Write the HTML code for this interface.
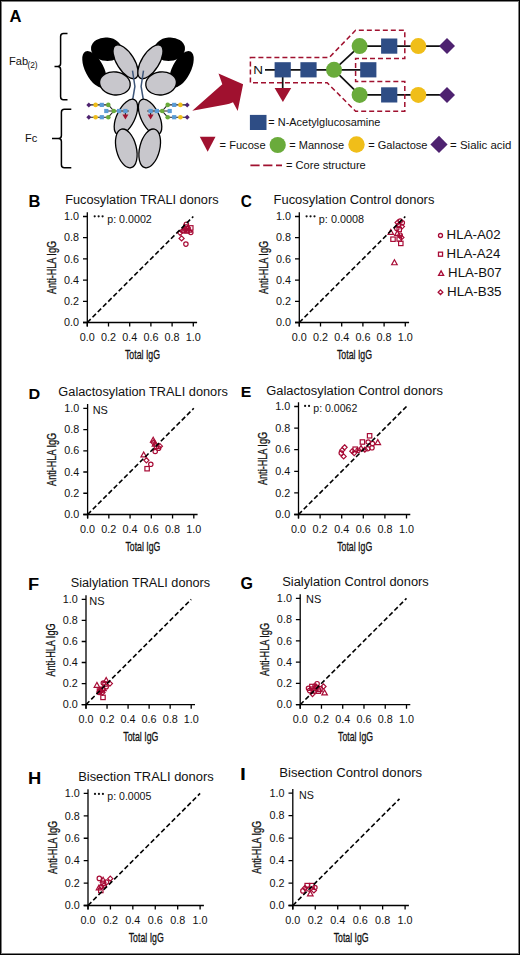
<!DOCTYPE html><html><head><meta charset="utf-8"><style>html,body{margin:0;padding:0;background:#fff;width:520px;height:955px;overflow:hidden}svg{display:block}</style></head><body><svg width="520" height="955" viewBox="0 0 520 955" font-family="'Liberation Sans', sans-serif">
<rect x="0" y="0" width="520" height="955" fill="#fff"/>
<text x="9.47" y="21.50" font-size="16.2" font-weight="bold" fill="#000" textLength="12.00" lengthAdjust="spacingAndGlyphs" >A</text>
<text x="9.01" y="64.50" font-size="10.8" font-weight="normal" fill="#111" textLength="19.09" lengthAdjust="spacingAndGlyphs" >Fab</text>
<text x="27.40" y="68.40" font-size="8.2" font-weight="normal" fill="#111" textLength="10.25" lengthAdjust="spacingAndGlyphs" >(2)</text>
<text x="25.11" y="141.80" font-size="10.8" font-weight="normal" fill="#111" textLength="12.31" lengthAdjust="spacingAndGlyphs" >Fc</text>
<g fill="none" stroke="#000" stroke-width="1.5" stroke-linecap="butt">
<path d="M67.5,33.4 H63.5 Q60.6,33.4 60.6,36.4 V63.4 Q60.6,66.4 57.6,66.4 H54.5 H57.6 Q60.6,66.4 60.6,69.4 V96.8 Q60.6,99.8 63.5,99.8 H67.5"/>
<path d="M71.3,109.3 H64.4 Q61.4,109.3 61.4,112.3 V135.4 Q61.4,138.4 58.4,138.4 H52 H58.4 Q61.4,138.4 61.4,141.4 V164.8 Q61.4,167.8 64.4,167.8 H71.3"/>
</g>
<g><ellipse cx="106.5" cy="49.2" rx="15.5" ry="11.7" transform="rotate(5 106.5 49.2)" fill="#000"/>
<ellipse cx="94.5" cy="69.3" rx="9.2" ry="20" transform="rotate(-27 94.5 69.3)" fill="#000"/>
<ellipse cx="125.6" cy="61.8" rx="8.7" ry="19.2" transform="rotate(-32 125.6 61.8)" fill="#C8C7CC" stroke="#000" stroke-width="1.3"/>
<ellipse cx="114.9" cy="83.4" rx="15.4" ry="11.5" transform="rotate(8 114.9 83.4)" fill="#C8C7CC" stroke="#000" stroke-width="1.3"/>
<path d="M132.5,70.6 L134.9,86.5 L132.7,99.5" fill="none" stroke="#3E5679" stroke-width="1.5"/>
<ellipse cx="125.9" cy="117" rx="9" ry="19.3" transform="rotate(26 125.9 117)" fill="#C8C7CC" stroke="#000" stroke-width="1.3"/>
<ellipse cx="126.3" cy="148.4" rx="10" ry="19.8" transform="rotate(-14 126.3 148.4)" fill="#C8C7CC" stroke="#000" stroke-width="1.3"/>
<g stroke="#222" stroke-width="1.1" fill="none"><path d="M88.8,104.9 H108.3 L113.8,111 L108.3,117.2 H88.8 M106.3,111 H128.8 M125.4,111 V115"/></g>
<polygon points="88.8,102.4 91.3,104.9 88.8,107.4 86.3,104.9" fill="#4E2270"/>
<circle cx="95.6" cy="104.9" r="2.3" fill="#F0BE19"/>
<rect x="99.7" y="102.8" width="4.2" height="4.2" fill="#5B9BD5"/>
<circle cx="108.3" cy="104.9" r="2.3" fill="#6AAB3B"/>
<polygon points="88.8,114.7 91.3,117.2 88.8,119.7 86.3,117.2" fill="#4E2270"/>
<circle cx="95.6" cy="117.2" r="2.3" fill="#F0BE19"/>
<rect x="99.7" y="115.1" width="4.2" height="4.2" fill="#5B9BD5"/>
<circle cx="108.3" cy="117.2" r="2.3" fill="#6AAB3B"/>
<rect x="104.2" y="108.9" width="4.2" height="4.2" fill="#5B9BD5"/>
<circle cx="113.8" cy="111" r="2.3" fill="#6AAB3B"/>
<rect x="117.0" y="108.9" width="4.2" height="4.2" fill="#5B9BD5"/>
<rect x="123.3" y="108.9" width="4.2" height="4.2" fill="#5B9BD5"/>
<polygon points="122.4,114.6 128.4,114.6 125.4,119.6" fill="#A0112F"/></g>
<g transform="translate(276,0) scale(-1,1)"><ellipse cx="106.5" cy="49.2" rx="15.5" ry="11.7" transform="rotate(5 106.5 49.2)" fill="#000"/>
<ellipse cx="94.5" cy="69.3" rx="9.2" ry="20" transform="rotate(-27 94.5 69.3)" fill="#000"/>
<ellipse cx="125.6" cy="61.8" rx="8.7" ry="19.2" transform="rotate(-32 125.6 61.8)" fill="#C8C7CC" stroke="#000" stroke-width="1.3"/>
<ellipse cx="114.9" cy="83.4" rx="15.4" ry="11.5" transform="rotate(8 114.9 83.4)" fill="#C8C7CC" stroke="#000" stroke-width="1.3"/>
<path d="M132.5,70.6 L134.9,86.5 L132.7,99.5" fill="none" stroke="#3E5679" stroke-width="1.5"/>
<ellipse cx="125.9" cy="117" rx="9" ry="19.3" transform="rotate(26 125.9 117)" fill="#C8C7CC" stroke="#000" stroke-width="1.3"/>
<ellipse cx="126.3" cy="148.4" rx="10" ry="19.8" transform="rotate(-14 126.3 148.4)" fill="#C8C7CC" stroke="#000" stroke-width="1.3"/>
<g stroke="#222" stroke-width="1.1" fill="none"><path d="M88.8,104.9 H108.3 L113.8,111 L108.3,117.2 H88.8 M106.3,111 H128.8 M125.4,111 V115"/></g>
<polygon points="88.8,102.4 91.3,104.9 88.8,107.4 86.3,104.9" fill="#4E2270"/>
<circle cx="95.6" cy="104.9" r="2.3" fill="#F0BE19"/>
<rect x="99.7" y="102.8" width="4.2" height="4.2" fill="#5B9BD5"/>
<circle cx="108.3" cy="104.9" r="2.3" fill="#6AAB3B"/>
<polygon points="88.8,114.7 91.3,117.2 88.8,119.7 86.3,117.2" fill="#4E2270"/>
<circle cx="95.6" cy="117.2" r="2.3" fill="#F0BE19"/>
<rect x="99.7" y="115.1" width="4.2" height="4.2" fill="#5B9BD5"/>
<circle cx="108.3" cy="117.2" r="2.3" fill="#6AAB3B"/>
<rect x="104.2" y="108.9" width="4.2" height="4.2" fill="#5B9BD5"/>
<circle cx="113.8" cy="111" r="2.3" fill="#6AAB3B"/>
<rect x="117.0" y="108.9" width="4.2" height="4.2" fill="#5B9BD5"/>
<rect x="123.3" y="108.9" width="4.2" height="4.2" fill="#5B9BD5"/>
<polygon points="122.4,114.6 128.4,114.6 125.4,119.6" fill="#A0112F"/></g>
<path d="M192.3,110.8 L222.3,84.3 L218.5,73.5 L243.1,84.3 L237.7,111.1 L233,102.3 Q229,104 226,104.6 Z" fill="#A0112F"/>
<g stroke="#111" stroke-width="1.7" fill="none">
<path d="M265,69.8 H368 M282.7,69.8 V89 M334,69.8 L359.6,46.1 H447 M334,69.8 L359.6,94.9 H447"/>
</g>
<text x="253.22" y="73.80" font-size="11" font-weight="normal" fill="#111" textLength="9.76" lengthAdjust="spacingAndGlyphs" >N</text>
<polygon points="274.6,88 291.2,88 282.9,102" fill="#A0112F"/>
<rect x="274.6" y="62.2" width="16.2" height="15.2" fill="#2E4D85"/>
<rect x="300.4" y="62.2" width="16.2" height="15.2" fill="#2E4D85"/>
<rect x="360.2" y="62.2" width="16.2" height="15.2" fill="#2E4D85"/>
<rect x="381.1" y="38.5" width="16.2" height="15.2" fill="#2E4D85"/>
<rect x="381.1" y="87.3" width="16.2" height="15.2" fill="#2E4D85"/>
<circle cx="334" cy="69.8" r="8" fill="#6AAB3B"/>
<circle cx="359.6" cy="46.1" r="8" fill="#6AAB3B"/>
<circle cx="359.6" cy="94.9" r="8" fill="#6AAB3B"/>
<circle cx="418.3" cy="46.1" r="8" fill="#F0BE19"/>
<circle cx="418.3" cy="94.9" r="8" fill="#F0BE19"/>
<polygon points="447,38.1 455,46.1 447,54.1 439,46.1" fill="#4E2270"/>
<polygon points="447,86.9 455,94.9 447,102.9 439,94.9" fill="#4E2270"/>
<path d="M250.4,57.6 H329.2 L355.6,30.3 H404.8 V58.5 H355.6 V81.4 H404.8 V111.3 H355.6 L327.2,82.8 H250.4 Z" fill="none" stroke="#A0112F" stroke-width="1.5" stroke-dasharray="5 3"/>
<rect x="249.9" y="114.9" width="16.6" height="15.1" fill="#2E4D85"/>
<text x="268.36" y="126.20" font-size="10.8" font-weight="normal" fill="#111" textLength="112.03" lengthAdjust="spacingAndGlyphs" >= N-Acetylglucosamine</text>
<polygon points="199.8,136.7 215.5,136.7 207.65,151.7" fill="#A0112F"/>
<text x="219.56" y="148.50" font-size="10.8" font-weight="normal" fill="#111" textLength="46.05" lengthAdjust="spacingAndGlyphs" >= Fucose</text>
<circle cx="277.7" cy="145" r="8.1" fill="#6AAB3B"/>
<text x="289.36" y="148.50" font-size="10.8" font-weight="normal" fill="#111" textLength="54.74" lengthAdjust="spacingAndGlyphs" >= Mannose</text>
<circle cx="356.5" cy="144.5" r="8.2" fill="#F0BE19"/>
<text x="368.16" y="148.50" font-size="10.8" font-weight="normal" fill="#111" textLength="59.34" lengthAdjust="spacingAndGlyphs" >= Galactose</text>
<polygon points="439,135.8 447.6,144.4 439,153 430.4,144.4" fill="#4E2270"/>
<text x="450.14" y="148.50" font-size="10.8" font-weight="normal" fill="#111" textLength="61.30" lengthAdjust="spacingAndGlyphs" >= Sialic acid</text>
<line x1="250.4" y1="165.4" x2="282" y2="165.4" stroke="#A0112F" stroke-width="1.6" stroke-dasharray="9.2 3.6"/>
<text x="286.06" y="169.20" font-size="10.8" font-weight="normal" fill="#111" textLength="79.74" lengthAdjust="spacingAndGlyphs" >= Core structure</text>
<g stroke="#000" stroke-width="1.3" fill="none" stroke-linecap="butt">
<path d="M87.30,326.60 V212.30 M83.00,322.50 H197.10"/>
<path d="M83.00,322.50 H87.30 M87.30,322.50 V326.60 M83.00,301.30 H87.30 M108.50,322.50 V326.60 M83.00,280.10 H87.30 M129.70,322.50 V326.60 M83.00,258.90 H87.30 M150.90,322.50 V326.60 M83.00,237.70 H87.30 M172.10,322.50 V326.60 M83.00,216.50 H87.30 M193.30,322.50 V326.60 "/>
</g>
<text x="79.00" y="326.20" font-size="10.0" text-anchor="end" font-weight="normal" fill="#111" textLength="15.01" lengthAdjust="spacingAndGlyphs" >0.0</text>
<text x="87.30" y="340.50" font-size="10.0" text-anchor="middle" font-weight="normal" fill="#111" textLength="15.01" lengthAdjust="spacingAndGlyphs" >0.0</text>
<text x="79.00" y="305.00" font-size="10.0" text-anchor="end" font-weight="normal" fill="#111" textLength="15.01" lengthAdjust="spacingAndGlyphs" >0.2</text>
<text x="108.50" y="340.50" font-size="10.0" text-anchor="middle" font-weight="normal" fill="#111" textLength="15.01" lengthAdjust="spacingAndGlyphs" >0.2</text>
<text x="79.00" y="283.80" font-size="10.0" text-anchor="end" font-weight="normal" fill="#111" textLength="15.01" lengthAdjust="spacingAndGlyphs" >0.4</text>
<text x="129.70" y="340.50" font-size="10.0" text-anchor="middle" font-weight="normal" fill="#111" textLength="15.01" lengthAdjust="spacingAndGlyphs" >0.4</text>
<text x="79.00" y="262.60" font-size="10.0" text-anchor="end" font-weight="normal" fill="#111" textLength="15.01" lengthAdjust="spacingAndGlyphs" >0.6</text>
<text x="150.90" y="340.50" font-size="10.0" text-anchor="middle" font-weight="normal" fill="#111" textLength="15.01" lengthAdjust="spacingAndGlyphs" >0.6</text>
<text x="79.00" y="241.40" font-size="10.0" text-anchor="end" font-weight="normal" fill="#111" textLength="15.01" lengthAdjust="spacingAndGlyphs" >0.8</text>
<text x="172.10" y="340.50" font-size="10.0" text-anchor="middle" font-weight="normal" fill="#111" textLength="15.01" lengthAdjust="spacingAndGlyphs" >0.8</text>
<text x="79.00" y="220.20" font-size="10.0" text-anchor="end" font-weight="normal" fill="#111" textLength="15.01" lengthAdjust="spacingAndGlyphs" >1.0</text>
<text x="193.30" y="340.50" font-size="10.0" text-anchor="middle" font-weight="normal" fill="#111" textLength="15.01" lengthAdjust="spacingAndGlyphs" >1.0</text>
<text x="142.50" y="358.80" font-size="12.6" text-anchor="middle" fill="#111" stroke="#111" stroke-width="0.3" textLength="35" lengthAdjust="spacingAndGlyphs">Total IgG</text>
<text transform="translate(55.80,267.50) rotate(-90)" x="0" y="0" font-size="12.6" text-anchor="middle" fill="#111" stroke="#111" stroke-width="0.3" textLength="53" lengthAdjust="spacingAndGlyphs">Anti-HLA IgG</text>
<circle cx="185.90" cy="244.10" r="2.20" fill="none" stroke="#A80C36" stroke-width="1.2"/>
<polygon points="181.60,235.85 184.15,238.40 181.60,240.95 179.05,238.40" fill="none" stroke="#A80C36" stroke-width="1.2"/>
<circle cx="190.80" cy="232.50" r="2.20" fill="none" stroke="#A80C36" stroke-width="1.2"/>
<circle cx="186.40" cy="224.20" r="2.20" fill="none" stroke="#A80C36" stroke-width="1.2"/>
<rect x="188.60" y="225.70" width="4.40" height="4.40" fill="none" stroke="#A80C36" stroke-width="1.2"/>
<polygon points="180.10,230.25 182.65,232.80 180.10,235.35 177.55,232.80" fill="none" stroke="#A80C36" stroke-width="1.2"/>
<circle cx="185.00" cy="229.00" r="2.20" fill="none" stroke="#A80C36" stroke-width="1.2"/>
<rect x="184.80" y="228.80" width="4.40" height="4.40" fill="none" stroke="#A80C36" stroke-width="1.2"/>
<polygon points="184.00,227.10 186.75,232.03 181.25,232.03" fill="none" stroke="#A80C36" stroke-width="1.2" stroke-linejoin="miter"/>
<polygon points="188.00,225.45 190.55,228.00 188.00,230.55 185.45,228.00" fill="none" stroke="#A80C36" stroke-width="1.2"/>
<circle cx="183.00" cy="231.00" r="2.20" fill="none" stroke="#A80C36" stroke-width="1.2"/>
<rect x="183.80" y="224.80" width="4.40" height="4.40" fill="none" stroke="#A80C36" stroke-width="1.2"/>
<polygon points="189.00,227.10 191.75,232.03 186.25,232.03" fill="none" stroke="#A80C36" stroke-width="1.2" stroke-linejoin="miter"/>
<line x1="87.30" y1="322.50" x2="193.30" y2="216.50" stroke="#000" stroke-width="1.6" stroke-dasharray="4.8 2.6"/>
<g stroke="#000" stroke-width="1.3" fill="none" stroke-linecap="butt">
<path d="M299.30,326.60 V212.30 M295.00,322.50 H409.10"/>
<path d="M295.00,322.50 H299.30 M299.30,322.50 V326.60 M295.00,301.30 H299.30 M320.50,322.50 V326.60 M295.00,280.10 H299.30 M341.70,322.50 V326.60 M295.00,258.90 H299.30 M362.90,322.50 V326.60 M295.00,237.70 H299.30 M384.10,322.50 V326.60 M295.00,216.50 H299.30 M405.30,322.50 V326.60 "/>
</g>
<text x="291.00" y="326.20" font-size="10.0" text-anchor="end" font-weight="normal" fill="#111" textLength="15.01" lengthAdjust="spacingAndGlyphs" >0.0</text>
<text x="299.30" y="340.50" font-size="10.0" text-anchor="middle" font-weight="normal" fill="#111" textLength="15.01" lengthAdjust="spacingAndGlyphs" >0.0</text>
<text x="291.00" y="305.00" font-size="10.0" text-anchor="end" font-weight="normal" fill="#111" textLength="15.01" lengthAdjust="spacingAndGlyphs" >0.2</text>
<text x="320.50" y="340.50" font-size="10.0" text-anchor="middle" font-weight="normal" fill="#111" textLength="15.01" lengthAdjust="spacingAndGlyphs" >0.2</text>
<text x="291.00" y="283.80" font-size="10.0" text-anchor="end" font-weight="normal" fill="#111" textLength="15.01" lengthAdjust="spacingAndGlyphs" >0.4</text>
<text x="341.70" y="340.50" font-size="10.0" text-anchor="middle" font-weight="normal" fill="#111" textLength="15.01" lengthAdjust="spacingAndGlyphs" >0.4</text>
<text x="291.00" y="262.60" font-size="10.0" text-anchor="end" font-weight="normal" fill="#111" textLength="15.01" lengthAdjust="spacingAndGlyphs" >0.6</text>
<text x="362.90" y="340.50" font-size="10.0" text-anchor="middle" font-weight="normal" fill="#111" textLength="15.01" lengthAdjust="spacingAndGlyphs" >0.6</text>
<text x="291.00" y="241.40" font-size="10.0" text-anchor="end" font-weight="normal" fill="#111" textLength="15.01" lengthAdjust="spacingAndGlyphs" >0.8</text>
<text x="384.10" y="340.50" font-size="10.0" text-anchor="middle" font-weight="normal" fill="#111" textLength="15.01" lengthAdjust="spacingAndGlyphs" >0.8</text>
<text x="291.00" y="220.20" font-size="10.0" text-anchor="end" font-weight="normal" fill="#111" textLength="15.01" lengthAdjust="spacingAndGlyphs" >1.0</text>
<text x="405.30" y="340.50" font-size="10.0" text-anchor="middle" font-weight="normal" fill="#111" textLength="15.01" lengthAdjust="spacingAndGlyphs" >1.0</text>
<text x="354.50" y="358.80" font-size="12.6" text-anchor="middle" fill="#111" stroke="#111" stroke-width="0.3" textLength="35" lengthAdjust="spacingAndGlyphs">Total IgG</text>
<text transform="translate(267.80,267.50) rotate(-90)" x="0" y="0" font-size="12.6" text-anchor="middle" fill="#111" stroke="#111" stroke-width="0.3" textLength="53" lengthAdjust="spacingAndGlyphs">Anti-HLA IgG</text>
<polygon points="394.45,259.80 397.20,264.73 391.69,264.73" fill="none" stroke="#A80C36" stroke-width="1.2" stroke-linejoin="miter"/>
<rect x="390.80" y="237.00" width="4.40" height="4.40" fill="none" stroke="#A80C36" stroke-width="1.2"/>
<rect x="398.60" y="241.20" width="4.40" height="4.40" fill="none" stroke="#A80C36" stroke-width="1.2"/>
<polygon points="390.80,229.50 393.56,234.43 388.05,234.43" fill="none" stroke="#A80C36" stroke-width="1.2" stroke-linejoin="miter"/>
<circle cx="400.20" cy="221.00" r="2.20" fill="none" stroke="#A80C36" stroke-width="1.2"/>
<polygon points="397.60,220.05 400.15,222.60 397.60,225.15 395.05,222.60" fill="none" stroke="#A80C36" stroke-width="1.2"/>
<circle cx="402.30" cy="222.80" r="2.20" fill="none" stroke="#A80C36" stroke-width="1.2"/>
<circle cx="398.50" cy="225.50" r="2.20" fill="none" stroke="#A80C36" stroke-width="1.2"/>
<polygon points="401.90,224.05 404.45,226.60 401.90,229.15 399.35,226.60" fill="none" stroke="#A80C36" stroke-width="1.2"/>
<circle cx="396.80" cy="228.40" r="2.20" fill="none" stroke="#A80C36" stroke-width="1.2"/>
<rect x="397.00" y="227.30" width="4.40" height="4.40" fill="none" stroke="#A80C36" stroke-width="1.2"/>
<polygon points="397.40,230.50 400.15,235.43 394.64,235.43" fill="none" stroke="#A80C36" stroke-width="1.2" stroke-linejoin="miter"/>
<circle cx="400.20" cy="235.20" r="2.20" fill="none" stroke="#A80C36" stroke-width="1.2"/>
<polygon points="401.40,234.85 403.95,237.40 401.40,239.95 398.85,237.40" fill="none" stroke="#A80C36" stroke-width="1.2"/>
<rect x="397.00" y="236.80" width="4.40" height="4.40" fill="none" stroke="#A80C36" stroke-width="1.2"/>
<line x1="299.30" y1="322.50" x2="405.30" y2="216.50" stroke="#000" stroke-width="1.6" stroke-dasharray="4.8 2.6"/>
<g stroke="#000" stroke-width="1.3" fill="none" stroke-linecap="butt">
<path d="M87.60,518.60 V404.10 M83.30,514.50 H197.60"/>
<path d="M83.30,514.50 H87.60 M87.60,514.50 V518.60 M83.30,493.26 H87.60 M108.84,514.50 V518.60 M83.30,472.02 H87.60 M130.08,514.50 V518.60 M83.30,450.78 H87.60 M151.32,514.50 V518.60 M83.30,429.54 H87.60 M172.56,514.50 V518.60 M83.30,408.30 H87.60 M193.80,514.50 V518.60 "/>
</g>
<text x="79.30" y="518.20" font-size="10.0" text-anchor="end" font-weight="normal" fill="#111" textLength="15.01" lengthAdjust="spacingAndGlyphs" >0.0</text>
<text x="87.60" y="532.50" font-size="10.0" text-anchor="middle" font-weight="normal" fill="#111" textLength="15.01" lengthAdjust="spacingAndGlyphs" >0.0</text>
<text x="79.30" y="496.96" font-size="10.0" text-anchor="end" font-weight="normal" fill="#111" textLength="15.01" lengthAdjust="spacingAndGlyphs" >0.2</text>
<text x="108.84" y="532.50" font-size="10.0" text-anchor="middle" font-weight="normal" fill="#111" textLength="15.01" lengthAdjust="spacingAndGlyphs" >0.2</text>
<text x="79.30" y="475.72" font-size="10.0" text-anchor="end" font-weight="normal" fill="#111" textLength="15.01" lengthAdjust="spacingAndGlyphs" >0.4</text>
<text x="130.08" y="532.50" font-size="10.0" text-anchor="middle" font-weight="normal" fill="#111" textLength="15.01" lengthAdjust="spacingAndGlyphs" >0.4</text>
<text x="79.30" y="454.48" font-size="10.0" text-anchor="end" font-weight="normal" fill="#111" textLength="15.01" lengthAdjust="spacingAndGlyphs" >0.6</text>
<text x="151.32" y="532.50" font-size="10.0" text-anchor="middle" font-weight="normal" fill="#111" textLength="15.01" lengthAdjust="spacingAndGlyphs" >0.6</text>
<text x="79.30" y="433.24" font-size="10.0" text-anchor="end" font-weight="normal" fill="#111" textLength="15.01" lengthAdjust="spacingAndGlyphs" >0.8</text>
<text x="172.56" y="532.50" font-size="10.0" text-anchor="middle" font-weight="normal" fill="#111" textLength="15.01" lengthAdjust="spacingAndGlyphs" >0.8</text>
<text x="79.30" y="412.00" font-size="10.0" text-anchor="end" font-weight="normal" fill="#111" textLength="15.01" lengthAdjust="spacingAndGlyphs" >1.0</text>
<text x="193.80" y="532.50" font-size="10.0" text-anchor="middle" font-weight="normal" fill="#111" textLength="15.01" lengthAdjust="spacingAndGlyphs" >1.0</text>
<text x="142.90" y="550.80" font-size="12.6" text-anchor="middle" fill="#111" stroke="#111" stroke-width="0.3" textLength="35" lengthAdjust="spacingAndGlyphs">Total IgG</text>
<text transform="translate(56.10,459.40) rotate(-90)" x="0" y="0" font-size="12.6" text-anchor="middle" fill="#111" stroke="#111" stroke-width="0.3" textLength="53" lengthAdjust="spacingAndGlyphs">Anti-HLA IgG</text>
<rect x="144.90" y="466.50" width="4.40" height="4.40" fill="none" stroke="#A80C36" stroke-width="1.2"/>
<circle cx="150.80" cy="464.30" r="2.20" fill="none" stroke="#A80C36" stroke-width="1.2"/>
<polygon points="146.40,457.75 148.95,460.30 146.40,462.85 143.85,460.30" fill="none" stroke="#A80C36" stroke-width="1.2"/>
<polygon points="143.70,452.00 146.45,456.93 140.94,456.93" fill="none" stroke="#A80C36" stroke-width="1.2" stroke-linejoin="miter"/>
<circle cx="155.20" cy="451.50" r="2.20" fill="none" stroke="#A80C36" stroke-width="1.2"/>
<polygon points="153.20,437.20 155.95,442.13 150.44,442.13" fill="none" stroke="#A80C36" stroke-width="1.2" stroke-linejoin="miter"/>
<polygon points="153.50,439.95 156.05,442.50 153.50,445.05 150.95,442.50" fill="none" stroke="#A80C36" stroke-width="1.2"/>
<rect x="154.30" y="444.00" width="4.40" height="4.40" fill="none" stroke="#A80C36" stroke-width="1.2"/>
<polygon points="159.90,443.65 162.45,446.20 159.90,448.75 157.35,446.20" fill="none" stroke="#A80C36" stroke-width="1.2"/>
<circle cx="158.60" cy="448.20" r="2.20" fill="none" stroke="#A80C36" stroke-width="1.2"/>
<polygon points="155.00,441.10 157.75,446.03 152.25,446.03" fill="none" stroke="#A80C36" stroke-width="1.2" stroke-linejoin="miter"/>
<line x1="87.60" y1="514.50" x2="193.80" y2="408.30" stroke="#000" stroke-width="1.6" stroke-dasharray="4.8 2.6"/>
<g stroke="#000" stroke-width="1.3" fill="none" stroke-linecap="butt">
<path d="M298.50,518.60 V402.30 M294.20,514.50 H410.30"/>
<path d="M294.20,514.50 H298.50 M298.50,514.50 V518.60 M294.20,492.90 H298.50 M320.10,514.50 V518.60 M294.20,471.30 H298.50 M341.70,514.50 V518.60 M294.20,449.70 H298.50 M363.30,514.50 V518.60 M294.20,428.10 H298.50 M384.90,514.50 V518.60 M294.20,406.50 H298.50 M406.50,514.50 V518.60 "/>
</g>
<text x="290.20" y="518.20" font-size="10.0" text-anchor="end" font-weight="normal" fill="#111" textLength="15.01" lengthAdjust="spacingAndGlyphs" >0.0</text>
<text x="298.50" y="532.50" font-size="10.0" text-anchor="middle" font-weight="normal" fill="#111" textLength="15.01" lengthAdjust="spacingAndGlyphs" >0.0</text>
<text x="290.20" y="496.60" font-size="10.0" text-anchor="end" font-weight="normal" fill="#111" textLength="15.01" lengthAdjust="spacingAndGlyphs" >0.2</text>
<text x="320.10" y="532.50" font-size="10.0" text-anchor="middle" font-weight="normal" fill="#111" textLength="15.01" lengthAdjust="spacingAndGlyphs" >0.2</text>
<text x="290.20" y="475.00" font-size="10.0" text-anchor="end" font-weight="normal" fill="#111" textLength="15.01" lengthAdjust="spacingAndGlyphs" >0.4</text>
<text x="341.70" y="532.50" font-size="10.0" text-anchor="middle" font-weight="normal" fill="#111" textLength="15.01" lengthAdjust="spacingAndGlyphs" >0.4</text>
<text x="290.20" y="453.40" font-size="10.0" text-anchor="end" font-weight="normal" fill="#111" textLength="15.01" lengthAdjust="spacingAndGlyphs" >0.6</text>
<text x="363.30" y="532.50" font-size="10.0" text-anchor="middle" font-weight="normal" fill="#111" textLength="15.01" lengthAdjust="spacingAndGlyphs" >0.6</text>
<text x="290.20" y="431.80" font-size="10.0" text-anchor="end" font-weight="normal" fill="#111" textLength="15.01" lengthAdjust="spacingAndGlyphs" >0.8</text>
<text x="384.90" y="532.50" font-size="10.0" text-anchor="middle" font-weight="normal" fill="#111" textLength="15.01" lengthAdjust="spacingAndGlyphs" >0.8</text>
<text x="290.20" y="410.20" font-size="10.0" text-anchor="end" font-weight="normal" fill="#111" textLength="15.01" lengthAdjust="spacingAndGlyphs" >1.0</text>
<text x="406.50" y="532.50" font-size="10.0" text-anchor="middle" font-weight="normal" fill="#111" textLength="15.01" lengthAdjust="spacingAndGlyphs" >1.0</text>
<text x="354.70" y="550.80" font-size="12.6" text-anchor="middle" fill="#111" stroke="#111" stroke-width="0.3" textLength="35" lengthAdjust="spacingAndGlyphs">Total IgG</text>
<text transform="translate(267.00,458.50) rotate(-90)" x="0" y="0" font-size="12.6" text-anchor="middle" fill="#111" stroke="#111" stroke-width="0.3" textLength="53" lengthAdjust="spacingAndGlyphs">Anti-HLA IgG</text>
<polygon points="344.60,444.75 347.15,447.30 344.60,449.85 342.05,447.30" fill="none" stroke="#A80C36" stroke-width="1.2"/>
<polygon points="342.20,447.65 344.75,450.20 342.20,452.75 339.65,450.20" fill="none" stroke="#A80C36" stroke-width="1.2"/>
<circle cx="341.25" cy="453.10" r="2.20" fill="none" stroke="#A80C36" stroke-width="1.2"/>
<polygon points="343.65,453.85 346.20,456.40 343.65,458.95 341.10,456.40" fill="none" stroke="#A80C36" stroke-width="1.2"/>
<polygon points="352.30,448.65 354.85,451.20 352.30,453.75 349.75,451.20" fill="none" stroke="#A80C36" stroke-width="1.2"/>
<rect x="353.00" y="447.00" width="4.40" height="4.40" fill="none" stroke="#A80C36" stroke-width="1.2"/>
<polygon points="354.20,450.55 356.75,453.10 354.20,455.65 351.65,453.10" fill="none" stroke="#A80C36" stroke-width="1.2"/>
<circle cx="358.10" cy="450.20" r="2.20" fill="none" stroke="#A80C36" stroke-width="1.2"/>
<polygon points="361.00,445.40 363.75,450.33 358.25,450.33" fill="none" stroke="#A80C36" stroke-width="1.2" stroke-linejoin="miter"/>
<rect x="360.20" y="439.80" width="4.40" height="4.40" fill="none" stroke="#A80C36" stroke-width="1.2"/>
<rect x="367.40" y="433.60" width="4.40" height="4.40" fill="none" stroke="#A80C36" stroke-width="1.2"/>
<circle cx="368.20" cy="442.00" r="2.20" fill="none" stroke="#A80C36" stroke-width="1.2"/>
<circle cx="372.50" cy="443.50" r="2.20" fill="none" stroke="#A80C36" stroke-width="1.2"/>
<polygon points="377.80,439.60 380.56,444.53 375.05,444.53" fill="none" stroke="#A80C36" stroke-width="1.2" stroke-linejoin="miter"/>
<circle cx="372.00" cy="447.80" r="2.20" fill="none" stroke="#A80C36" stroke-width="1.2"/>
<circle cx="367.70" cy="448.75" r="2.20" fill="none" stroke="#A80C36" stroke-width="1.2"/>
<polygon points="364.80,447.15 367.35,449.70 364.80,452.25 362.25,449.70" fill="none" stroke="#A80C36" stroke-width="1.2"/>
<line x1="298.50" y1="514.50" x2="406.50" y2="406.50" stroke="#000" stroke-width="1.6" stroke-dasharray="4.8 2.6"/>
<g stroke="#000" stroke-width="1.3" fill="none" stroke-linecap="butt">
<path d="M86.00,708.70 V595.20 M81.70,704.60 H195.00"/>
<path d="M81.70,704.60 H86.00 M86.00,704.60 V708.70 M81.70,683.56 H86.00 M107.04,704.60 V708.70 M81.70,662.52 H86.00 M128.08,704.60 V708.70 M81.70,641.48 H86.00 M149.12,704.60 V708.70 M81.70,620.44 H86.00 M170.16,704.60 V708.70 M81.70,599.40 H86.00 M191.20,704.60 V708.70 "/>
</g>
<text x="77.70" y="708.30" font-size="10.0" text-anchor="end" font-weight="normal" fill="#111" textLength="15.01" lengthAdjust="spacingAndGlyphs" >0.0</text>
<text x="86.00" y="722.60" font-size="10.0" text-anchor="middle" font-weight="normal" fill="#111" textLength="15.01" lengthAdjust="spacingAndGlyphs" >0.0</text>
<text x="77.70" y="687.26" font-size="10.0" text-anchor="end" font-weight="normal" fill="#111" textLength="15.01" lengthAdjust="spacingAndGlyphs" >0.2</text>
<text x="107.04" y="722.60" font-size="10.0" text-anchor="middle" font-weight="normal" fill="#111" textLength="15.01" lengthAdjust="spacingAndGlyphs" >0.2</text>
<text x="77.70" y="666.22" font-size="10.0" text-anchor="end" font-weight="normal" fill="#111" textLength="15.01" lengthAdjust="spacingAndGlyphs" >0.4</text>
<text x="128.08" y="722.60" font-size="10.0" text-anchor="middle" font-weight="normal" fill="#111" textLength="15.01" lengthAdjust="spacingAndGlyphs" >0.4</text>
<text x="77.70" y="645.18" font-size="10.0" text-anchor="end" font-weight="normal" fill="#111" textLength="15.01" lengthAdjust="spacingAndGlyphs" >0.6</text>
<text x="149.12" y="722.60" font-size="10.0" text-anchor="middle" font-weight="normal" fill="#111" textLength="15.01" lengthAdjust="spacingAndGlyphs" >0.6</text>
<text x="77.70" y="624.14" font-size="10.0" text-anchor="end" font-weight="normal" fill="#111" textLength="15.01" lengthAdjust="spacingAndGlyphs" >0.8</text>
<text x="170.16" y="722.60" font-size="10.0" text-anchor="middle" font-weight="normal" fill="#111" textLength="15.01" lengthAdjust="spacingAndGlyphs" >0.8</text>
<text x="77.70" y="603.10" font-size="10.0" text-anchor="end" font-weight="normal" fill="#111" textLength="15.01" lengthAdjust="spacingAndGlyphs" >1.0</text>
<text x="191.20" y="722.60" font-size="10.0" text-anchor="middle" font-weight="normal" fill="#111" textLength="15.01" lengthAdjust="spacingAndGlyphs" >1.0</text>
<text x="140.80" y="740.90" font-size="12.6" text-anchor="middle" fill="#111" stroke="#111" stroke-width="0.3" textLength="35" lengthAdjust="spacingAndGlyphs">Total IgG</text>
<text transform="translate(54.50,650.00) rotate(-90)" x="0" y="0" font-size="12.6" text-anchor="middle" fill="#111" stroke="#111" stroke-width="0.3" textLength="53" lengthAdjust="spacingAndGlyphs">Anti-HLA IgG</text>
<polygon points="96.90,682.40 99.66,687.33 94.15,687.33" fill="none" stroke="#A80C36" stroke-width="1.2" stroke-linejoin="miter"/>
<rect x="100.80" y="695.20" width="4.40" height="4.40" fill="none" stroke="#A80C36" stroke-width="1.2"/>
<polygon points="100.40,688.85 102.95,691.40 100.40,693.95 97.85,691.40" fill="none" stroke="#A80C36" stroke-width="1.2"/>
<rect x="99.90" y="687.40" width="4.40" height="4.40" fill="none" stroke="#A80C36" stroke-width="1.2"/>
<circle cx="99.20" cy="692.50" r="2.20" fill="none" stroke="#A80C36" stroke-width="1.2"/>
<polygon points="101.00,687.10 103.75,692.03 98.25,692.03" fill="none" stroke="#A80C36" stroke-width="1.2" stroke-linejoin="miter"/>
<circle cx="103.30" cy="683.00" r="2.20" fill="none" stroke="#A80C36" stroke-width="1.2"/>
<polygon points="106.20,677.50 108.95,682.43 103.45,682.43" fill="none" stroke="#A80C36" stroke-width="1.2" stroke-linejoin="miter"/>
<circle cx="106.20" cy="686.70" r="2.20" fill="none" stroke="#A80C36" stroke-width="1.2"/>
<polygon points="109.90,681.05 112.45,683.60 109.90,686.15 107.35,683.60" fill="none" stroke="#A80C36" stroke-width="1.2"/>
<rect x="102.80" y="681.80" width="4.40" height="4.40" fill="none" stroke="#A80C36" stroke-width="1.2"/>
<circle cx="100.50" cy="690.50" r="2.20" fill="none" stroke="#A80C36" stroke-width="1.2"/>
<polygon points="102.50,689.95 105.05,692.50 102.50,695.05 99.95,692.50" fill="none" stroke="#A80C36" stroke-width="1.2"/>
<rect x="97.30" y="688.80" width="4.40" height="4.40" fill="none" stroke="#A80C36" stroke-width="1.2"/>
<polygon points="103.50,685.60 106.25,690.53 100.75,690.53" fill="none" stroke="#A80C36" stroke-width="1.2" stroke-linejoin="miter"/>
<line x1="86.00" y1="704.60" x2="191.20" y2="599.40" stroke="#000" stroke-width="1.6" stroke-dasharray="4.8 2.6"/>
<g stroke="#000" stroke-width="1.3" fill="none" stroke-linecap="butt">
<path d="M300.20,708.80 V594.20 M295.90,704.70 H410.30"/>
<path d="M295.90,704.70 H300.20 M300.20,704.70 V708.80 M295.90,683.44 H300.20 M321.46,704.70 V708.80 M295.90,662.18 H300.20 M342.72,704.70 V708.80 M295.90,640.92 H300.20 M363.98,704.70 V708.80 M295.90,619.66 H300.20 M385.24,704.70 V708.80 M295.90,598.40 H300.20 M406.50,704.70 V708.80 "/>
</g>
<text x="291.90" y="708.40" font-size="10.0" text-anchor="end" font-weight="normal" fill="#111" textLength="15.01" lengthAdjust="spacingAndGlyphs" >0.0</text>
<text x="300.20" y="722.70" font-size="10.0" text-anchor="middle" font-weight="normal" fill="#111" textLength="15.01" lengthAdjust="spacingAndGlyphs" >0.0</text>
<text x="291.90" y="687.14" font-size="10.0" text-anchor="end" font-weight="normal" fill="#111" textLength="15.01" lengthAdjust="spacingAndGlyphs" >0.2</text>
<text x="321.46" y="722.70" font-size="10.0" text-anchor="middle" font-weight="normal" fill="#111" textLength="15.01" lengthAdjust="spacingAndGlyphs" >0.2</text>
<text x="291.90" y="665.88" font-size="10.0" text-anchor="end" font-weight="normal" fill="#111" textLength="15.01" lengthAdjust="spacingAndGlyphs" >0.4</text>
<text x="342.72" y="722.70" font-size="10.0" text-anchor="middle" font-weight="normal" fill="#111" textLength="15.01" lengthAdjust="spacingAndGlyphs" >0.4</text>
<text x="291.90" y="644.62" font-size="10.0" text-anchor="end" font-weight="normal" fill="#111" textLength="15.01" lengthAdjust="spacingAndGlyphs" >0.6</text>
<text x="363.98" y="722.70" font-size="10.0" text-anchor="middle" font-weight="normal" fill="#111" textLength="15.01" lengthAdjust="spacingAndGlyphs" >0.6</text>
<text x="291.90" y="623.36" font-size="10.0" text-anchor="end" font-weight="normal" fill="#111" textLength="15.01" lengthAdjust="spacingAndGlyphs" >0.8</text>
<text x="385.24" y="722.70" font-size="10.0" text-anchor="middle" font-weight="normal" fill="#111" textLength="15.01" lengthAdjust="spacingAndGlyphs" >0.8</text>
<text x="291.90" y="602.10" font-size="10.0" text-anchor="end" font-weight="normal" fill="#111" textLength="15.01" lengthAdjust="spacingAndGlyphs" >1.0</text>
<text x="406.50" y="722.70" font-size="10.0" text-anchor="middle" font-weight="normal" fill="#111" textLength="15.01" lengthAdjust="spacingAndGlyphs" >1.0</text>
<text x="355.55" y="741.00" font-size="12.6" text-anchor="middle" fill="#111" stroke="#111" stroke-width="0.3" textLength="35" lengthAdjust="spacingAndGlyphs">Total IgG</text>
<text transform="translate(268.70,649.55) rotate(-90)" x="0" y="0" font-size="12.6" text-anchor="middle" fill="#111" stroke="#111" stroke-width="0.3" textLength="53" lengthAdjust="spacingAndGlyphs">Anti-HLA IgG</text>
<polygon points="324.60,690.00 327.36,694.93 321.85,694.93" fill="none" stroke="#A80C36" stroke-width="1.2" stroke-linejoin="miter"/>
<circle cx="308.50" cy="688.30" r="2.20" fill="none" stroke="#A80C36" stroke-width="1.2"/>
<rect x="309.70" y="684.30" width="4.40" height="4.40" fill="none" stroke="#A80C36" stroke-width="1.2"/>
<circle cx="317.10" cy="683.70" r="2.20" fill="none" stroke="#A80C36" stroke-width="1.2"/>
<rect x="316.10" y="689.00" width="4.40" height="4.40" fill="none" stroke="#A80C36" stroke-width="1.2"/>
<polygon points="312.50,691.45 315.05,694.00 312.50,696.55 309.95,694.00" fill="none" stroke="#A80C36" stroke-width="1.2"/>
<polygon points="323.50,683.95 326.05,686.50 323.50,689.05 320.95,686.50" fill="none" stroke="#A80C36" stroke-width="1.2"/>
<circle cx="309.60" cy="690.60" r="2.20" fill="none" stroke="#A80C36" stroke-width="1.2"/>
<polygon points="314.80,685.40 317.56,690.33 312.05,690.33" fill="none" stroke="#A80C36" stroke-width="1.2" stroke-linejoin="miter"/>
<circle cx="315.00" cy="686.00" r="2.20" fill="none" stroke="#A80C36" stroke-width="1.2"/>
<rect x="317.80" y="686.80" width="4.40" height="4.40" fill="none" stroke="#A80C36" stroke-width="1.2"/>
<circle cx="312.00" cy="689.00" r="2.20" fill="none" stroke="#A80C36" stroke-width="1.2"/>
<rect x="311.80" y="688.80" width="4.40" height="4.40" fill="none" stroke="#A80C36" stroke-width="1.2"/>
<polygon points="316.00,684.45 318.55,687.00 316.00,689.55 313.45,687.00" fill="none" stroke="#A80C36" stroke-width="1.2"/>
<polygon points="319.00,686.60 321.75,691.53 316.25,691.53" fill="none" stroke="#A80C36" stroke-width="1.2" stroke-linejoin="miter"/>
<line x1="300.20" y1="704.70" x2="406.50" y2="598.40" stroke="#000" stroke-width="1.6" stroke-dasharray="4.8 2.6"/>
<g stroke="#000" stroke-width="1.3" fill="none" stroke-linecap="butt">
<path d="M88.00,909.60 V789.20 M83.70,905.50 H203.90"/>
<path d="M83.70,905.50 H88.00 M88.00,905.50 V909.60 M83.70,883.08 H88.00 M110.42,905.50 V909.60 M83.70,860.66 H88.00 M132.84,905.50 V909.60 M83.70,838.24 H88.00 M155.26,905.50 V909.60 M83.70,815.82 H88.00 M177.68,905.50 V909.60 M83.70,793.40 H88.00 M200.10,905.50 V909.60 "/>
</g>
<text x="79.70" y="909.20" font-size="10.0" text-anchor="end" font-weight="normal" fill="#111" textLength="15.01" lengthAdjust="spacingAndGlyphs" >0.0</text>
<text x="88.00" y="923.50" font-size="10.0" text-anchor="middle" font-weight="normal" fill="#111" textLength="15.01" lengthAdjust="spacingAndGlyphs" >0.0</text>
<text x="79.70" y="886.78" font-size="10.0" text-anchor="end" font-weight="normal" fill="#111" textLength="15.01" lengthAdjust="spacingAndGlyphs" >0.2</text>
<text x="110.42" y="923.50" font-size="10.0" text-anchor="middle" font-weight="normal" fill="#111" textLength="15.01" lengthAdjust="spacingAndGlyphs" >0.2</text>
<text x="79.70" y="864.36" font-size="10.0" text-anchor="end" font-weight="normal" fill="#111" textLength="15.01" lengthAdjust="spacingAndGlyphs" >0.4</text>
<text x="132.84" y="923.50" font-size="10.0" text-anchor="middle" font-weight="normal" fill="#111" textLength="15.01" lengthAdjust="spacingAndGlyphs" >0.4</text>
<text x="79.70" y="841.94" font-size="10.0" text-anchor="end" font-weight="normal" fill="#111" textLength="15.01" lengthAdjust="spacingAndGlyphs" >0.6</text>
<text x="155.26" y="923.50" font-size="10.0" text-anchor="middle" font-weight="normal" fill="#111" textLength="15.01" lengthAdjust="spacingAndGlyphs" >0.6</text>
<text x="79.70" y="819.52" font-size="10.0" text-anchor="end" font-weight="normal" fill="#111" textLength="15.01" lengthAdjust="spacingAndGlyphs" >0.8</text>
<text x="177.68" y="923.50" font-size="10.0" text-anchor="middle" font-weight="normal" fill="#111" textLength="15.01" lengthAdjust="spacingAndGlyphs" >0.8</text>
<text x="79.70" y="797.10" font-size="10.0" text-anchor="end" font-weight="normal" fill="#111" textLength="15.01" lengthAdjust="spacingAndGlyphs" >1.0</text>
<text x="200.10" y="923.50" font-size="10.0" text-anchor="middle" font-weight="normal" fill="#111" textLength="15.01" lengthAdjust="spacingAndGlyphs" >1.0</text>
<text x="146.25" y="941.80" font-size="12.6" text-anchor="middle" fill="#111" stroke="#111" stroke-width="0.3" textLength="35" lengthAdjust="spacingAndGlyphs">Total IgG</text>
<text transform="translate(56.50,847.45) rotate(-90)" x="0" y="0" font-size="12.6" text-anchor="middle" fill="#111" stroke="#111" stroke-width="0.3" textLength="53" lengthAdjust="spacingAndGlyphs">Anti-HLA IgG</text>
<circle cx="99.30" cy="878.40" r="2.20" fill="none" stroke="#A80C36" stroke-width="1.2"/>
<polygon points="103.10,877.20 105.85,882.13 100.34,882.13" fill="none" stroke="#A80C36" stroke-width="1.2" stroke-linejoin="miter"/>
<polygon points="110.30,876.15 112.85,878.70 110.30,881.25 107.75,878.70" fill="none" stroke="#A80C36" stroke-width="1.2"/>
<circle cx="106.50" cy="882.10" r="2.20" fill="none" stroke="#A80C36" stroke-width="1.2"/>
<rect x="100.90" y="881.10" width="4.40" height="4.40" fill="none" stroke="#A80C36" stroke-width="1.2"/>
<polygon points="101.30,884.15 103.85,886.70 101.30,889.25 98.75,886.70" fill="none" stroke="#A80C36" stroke-width="1.2"/>
<rect x="98.60" y="888.30" width="4.40" height="4.40" fill="none" stroke="#A80C36" stroke-width="1.2"/>
<polygon points="99.00,885.00 101.75,889.93 96.25,889.93" fill="none" stroke="#A80C36" stroke-width="1.2" stroke-linejoin="miter"/>
<circle cx="104.20" cy="885.60" r="2.20" fill="none" stroke="#A80C36" stroke-width="1.2"/>
<line x1="88.00" y1="905.50" x2="200.10" y2="793.40" stroke="#000" stroke-width="1.6" stroke-dasharray="4.8 2.6"/>
<g stroke="#000" stroke-width="1.3" fill="none" stroke-linecap="butt">
<path d="M292.80,909.60 V789.00 M288.50,905.50 H408.90"/>
<path d="M288.50,905.50 H292.80 M292.80,905.50 V909.60 M288.50,883.04 H292.80 M315.26,905.50 V909.60 M288.50,860.58 H292.80 M337.72,905.50 V909.60 M288.50,838.12 H292.80 M360.18,905.50 V909.60 M288.50,815.66 H292.80 M382.64,905.50 V909.60 M288.50,793.20 H292.80 M405.10,905.50 V909.60 "/>
</g>
<text x="284.50" y="909.20" font-size="10.0" text-anchor="end" font-weight="normal" fill="#111" textLength="15.01" lengthAdjust="spacingAndGlyphs" >0.0</text>
<text x="292.80" y="923.50" font-size="10.0" text-anchor="middle" font-weight="normal" fill="#111" textLength="15.01" lengthAdjust="spacingAndGlyphs" >0.0</text>
<text x="284.50" y="886.74" font-size="10.0" text-anchor="end" font-weight="normal" fill="#111" textLength="15.01" lengthAdjust="spacingAndGlyphs" >0.2</text>
<text x="315.26" y="923.50" font-size="10.0" text-anchor="middle" font-weight="normal" fill="#111" textLength="15.01" lengthAdjust="spacingAndGlyphs" >0.2</text>
<text x="284.50" y="864.28" font-size="10.0" text-anchor="end" font-weight="normal" fill="#111" textLength="15.01" lengthAdjust="spacingAndGlyphs" >0.4</text>
<text x="337.72" y="923.50" font-size="10.0" text-anchor="middle" font-weight="normal" fill="#111" textLength="15.01" lengthAdjust="spacingAndGlyphs" >0.4</text>
<text x="284.50" y="841.82" font-size="10.0" text-anchor="end" font-weight="normal" fill="#111" textLength="15.01" lengthAdjust="spacingAndGlyphs" >0.6</text>
<text x="360.18" y="923.50" font-size="10.0" text-anchor="middle" font-weight="normal" fill="#111" textLength="15.01" lengthAdjust="spacingAndGlyphs" >0.6</text>
<text x="284.50" y="819.36" font-size="10.0" text-anchor="end" font-weight="normal" fill="#111" textLength="15.01" lengthAdjust="spacingAndGlyphs" >0.8</text>
<text x="382.64" y="923.50" font-size="10.0" text-anchor="middle" font-weight="normal" fill="#111" textLength="15.01" lengthAdjust="spacingAndGlyphs" >0.8</text>
<text x="284.50" y="796.90" font-size="10.0" text-anchor="end" font-weight="normal" fill="#111" textLength="15.01" lengthAdjust="spacingAndGlyphs" >1.0</text>
<text x="405.10" y="923.50" font-size="10.0" text-anchor="middle" font-weight="normal" fill="#111" textLength="15.01" lengthAdjust="spacingAndGlyphs" >1.0</text>
<text x="351.15" y="941.80" font-size="12.6" text-anchor="middle" fill="#111" stroke="#111" stroke-width="0.3" textLength="35" lengthAdjust="spacingAndGlyphs">Total IgG</text>
<text transform="translate(261.30,847.35) rotate(-90)" x="0" y="0" font-size="12.6" text-anchor="middle" fill="#111" stroke="#111" stroke-width="0.3" textLength="53" lengthAdjust="spacingAndGlyphs">Anti-HLA IgG</text>
<circle cx="302.90" cy="890.90" r="2.20" fill="none" stroke="#A80C36" stroke-width="1.2"/>
<rect x="305.00" y="883.40" width="4.40" height="4.40" fill="none" stroke="#A80C36" stroke-width="1.2"/>
<rect x="309.80" y="883.40" width="4.40" height="4.40" fill="none" stroke="#A80C36" stroke-width="1.2"/>
<circle cx="314.90" cy="887.50" r="2.20" fill="none" stroke="#A80C36" stroke-width="1.2"/>
<polygon points="313.90,887.85 316.45,890.40 313.90,892.95 311.35,890.40" fill="none" stroke="#A80C36" stroke-width="1.2"/>
<polygon points="310.30,890.85 313.06,895.78 307.55,895.78" fill="none" stroke="#A80C36" stroke-width="1.2" stroke-linejoin="miter"/>
<circle cx="308.70" cy="889.00" r="2.20" fill="none" stroke="#A80C36" stroke-width="1.2"/>
<polygon points="305.00,885.45 307.55,888.00 305.00,890.55 302.45,888.00" fill="none" stroke="#A80C36" stroke-width="1.2"/>
<line x1="292.80" y1="905.50" x2="399.49" y2="798.82" stroke="#000" stroke-width="1.6" stroke-dasharray="4.8 2.6"/>
<text x="65.18" y="204.20" font-size="12.3" font-weight="normal" fill="#111" textLength="153.40" lengthAdjust="spacingAndGlyphs" >Fucosylation TRALI donors</text>
<text x="273.57" y="204.20" font-size="12.3" font-weight="normal" fill="#111" textLength="160.82" lengthAdjust="spacingAndGlyphs" >Fucosylation Control donors</text>
<text x="58.36" y="396.20" font-size="12.3" font-weight="normal" fill="#111" textLength="169.52" lengthAdjust="spacingAndGlyphs" >Galactosylation TRALI donors</text>
<text x="266.25" y="394.70" font-size="12.3" font-weight="normal" fill="#111" textLength="176.83" lengthAdjust="spacingAndGlyphs" >Galactosylation Control donors</text>
<text x="70.79" y="587.40" font-size="12.3" font-weight="normal" fill="#111" textLength="139.39" lengthAdjust="spacingAndGlyphs" >Sialylation TRALI donors</text>
<text x="282.19" y="586.40" font-size="12.3" font-weight="normal" fill="#111" textLength="146.60" lengthAdjust="spacingAndGlyphs" >Sialylation Control donors</text>
<text x="78.17" y="781.20" font-size="12.3" font-weight="normal" fill="#111" textLength="135.52" lengthAdjust="spacingAndGlyphs" >Bisection TRALI donors</text>
<text x="279.35" y="777.00" font-size="12.3" font-weight="normal" fill="#111" textLength="142.84" lengthAdjust="spacingAndGlyphs" >Bisection Control donors</text>
<text x="28.41" y="206.60" font-size="16.0" font-weight="bold" fill="#000" textLength="11.88" lengthAdjust="spacingAndGlyphs" >B</text>
<text x="240.79" y="206.70" font-size="16.0" font-weight="bold" fill="#000" textLength="11.05" lengthAdjust="spacingAndGlyphs" >C</text>
<text x="28.63" y="398.50" font-size="15.0" font-weight="bold" fill="#000" textLength="11.69" lengthAdjust="spacingAndGlyphs" >D</text>
<text x="240.85" y="396.90" font-size="14.8" font-weight="bold" fill="#000" textLength="10.53" lengthAdjust="spacingAndGlyphs" >E</text>
<text x="27.90" y="589.60" font-size="16.0" font-weight="bold" fill="#000" textLength="11.16" lengthAdjust="spacingAndGlyphs" >F</text>
<text x="240.56" y="588.60" font-size="16.0" font-weight="bold" fill="#000" textLength="12.47" lengthAdjust="spacingAndGlyphs" >G</text>
<text x="28.10" y="783.50" font-size="16.4" font-weight="bold" fill="#000" textLength="13.24" lengthAdjust="spacingAndGlyphs" >H</text>
<text x="240.12" y="779.50" font-size="16.8" font-weight="bold" fill="#000" textLength="5.90" lengthAdjust="spacingAndGlyphs" >I</text>
<circle cx="94.70" cy="216.30" r="1.1" fill="#111"/>
<circle cx="98.65" cy="216.30" r="1.1" fill="#111"/>
<circle cx="102.60" cy="216.30" r="1.1" fill="#111"/>
<text x="107.26" y="222.50" font-size="10.2" font-weight="normal" fill="#111" textLength="44.53" lengthAdjust="spacingAndGlyphs" >p: 0.0002</text>
<circle cx="306.60" cy="216.30" r="1.1" fill="#111"/>
<circle cx="310.55" cy="216.30" r="1.1" fill="#111"/>
<circle cx="314.50" cy="216.30" r="1.1" fill="#111"/>
<text x="318.85" y="222.50" font-size="10.2" font-weight="normal" fill="#111" textLength="45.24" lengthAdjust="spacingAndGlyphs" >p: 0.0008</text>
<text x="92.73" y="414.00" font-size="10.2" font-weight="normal" fill="#111" textLength="15.18" lengthAdjust="spacingAndGlyphs" >NS</text>
<circle cx="305.10" cy="405.90" r="1.1" fill="#111"/>
<circle cx="309.05" cy="405.90" r="1.1" fill="#111"/>
<text x="313.27" y="412.10" font-size="10.2" font-weight="normal" fill="#111" textLength="44.02" lengthAdjust="spacingAndGlyphs" >p: 0.0062</text>
<text x="89.32" y="605.00" font-size="10.2" font-weight="normal" fill="#111" textLength="15.29" lengthAdjust="spacingAndGlyphs" >NS</text>
<text x="306.03" y="602.70" font-size="10.2" font-weight="normal" fill="#111" textLength="15.18" lengthAdjust="spacingAndGlyphs" >NS</text>
<circle cx="95.00" cy="793.90" r="1.1" fill="#111"/>
<circle cx="98.95" cy="793.90" r="1.1" fill="#111"/>
<circle cx="102.90" cy="793.90" r="1.1" fill="#111"/>
<text x="107.27" y="800.10" font-size="10.2" font-weight="normal" fill="#111" textLength="44.12" lengthAdjust="spacingAndGlyphs" >p: 0.0005</text>
<text x="298.94" y="798.80" font-size="10.2" font-weight="normal" fill="#111" textLength="14.85" lengthAdjust="spacingAndGlyphs" >NS</text>
<circle cx="440.50" cy="235.50" r="2.02" fill="none" stroke="#A80C36" stroke-width="1.3"/>
<text x="446.64" y="239.25" font-size="13.2" font-weight="normal" fill="#111" textLength="53.98" lengthAdjust="spacingAndGlyphs" >HLA-A02</text>
<rect x="438.48" y="252.18" width="4.05" height="4.05" fill="none" stroke="#A80C36" stroke-width="1.3"/>
<text x="446.64" y="258.10" font-size="13.2" font-weight="normal" fill="#111" textLength="53.70" lengthAdjust="spacingAndGlyphs" >HLA-A24</text>
<polygon points="441.10,270.83 443.63,275.37 438.57,275.37" fill="none" stroke="#A80C36" stroke-width="1.3" stroke-linejoin="miter"/>
<text x="448.14" y="277.30" font-size="13.2" font-weight="normal" fill="#111" textLength="53.57" lengthAdjust="spacingAndGlyphs" >HLA-B07</text>
<polygon points="440.50,289.85 442.85,292.20 440.50,294.55 438.15,292.20" fill="none" stroke="#A80C36" stroke-width="1.3"/>
<text x="447.13" y="295.80" font-size="13.2" font-weight="normal" fill="#111" textLength="54.46" lengthAdjust="spacingAndGlyphs" >HLA-B35</text>
<rect x="0.5" y="0.5" width="519" height="954" fill="none" stroke="#000" stroke-width="1"/>
<rect x="1.5" y="1.5" width="517" height="952" fill="none" stroke="#000" stroke-opacity="0.5" stroke-width="1"/>
</svg></body></html>
